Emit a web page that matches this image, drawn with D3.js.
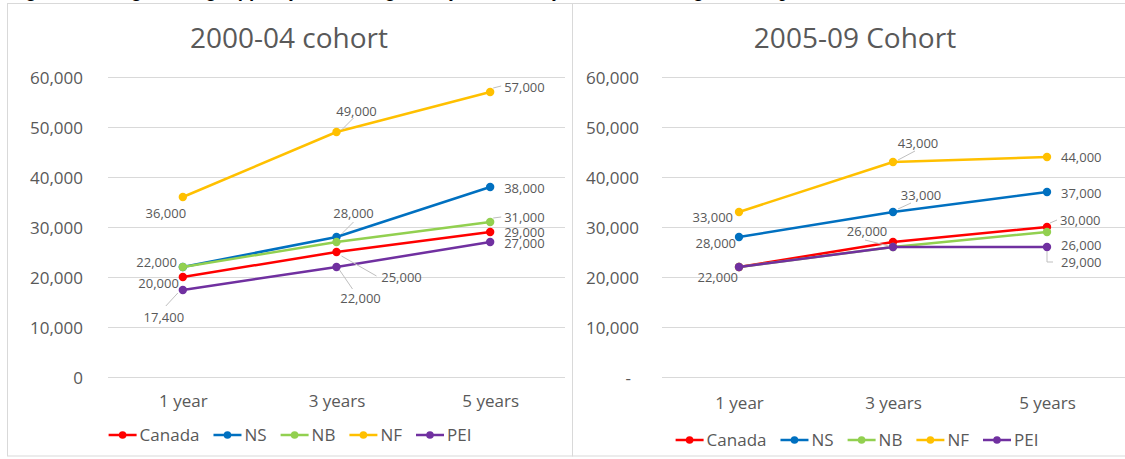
<!DOCTYPE html>
<html>
<head>
<meta charset="utf-8">
<script src="https://cdn.jsdelivr.net/npm/d3@7"></script>
<style>
  html, body { margin: 0; padding: 0; background: #ffffff; }
  svg { display: block; }
  text { font-family: "Open Sans", "DejaVu Sans", sans-serif; }
</style>
</head>
<body>
<svg id="chart" width="1125" height="459"></svg>
<script>
// ---------- data ----------
const categories = ["1 year", "3 years", "5 years"];
const seriesNames = ["Canada", "NS", "NB", "NF", "PEI"];
const yTicks = [0, 10000, 20000, 30000, 40000, 50000, 60000];
const titles = ["2000-04 cohort", "2005-09 Cohort"];
const caption = "Figure 4: Average earnings of family class immigrants by cohort and years since landing, Atlantic provinces";

// 2000-04 cohort
const canada0004 = [20000, 25000, 29000];
const ns0004     = [22000, 28000, 38000];
const nb0004     = [22000, 27000, 31000];
const nf0004     = [36000, 49000, 57000];
const pei0004    = [17400, 22000, 27000];

// 2005-09 cohort
const canada0509 = [22000, 27000, 30000];
const ns0509     = [28000, 33000, 37000];
const nb0509     = [22000, 26000, 29000];
const nf0509     = [33000, 43000, 44000];
const pei0509    = [22000, 26000, 26000];

// ---------- styles ----------
const colors = ["#ff0000", "#0070c0", "#92d050", "#ffc000", "#7030a0"];
const textGrey = "#595959";
const gridGrey = "#d9d9d9";

// label layout (series index, category index, offsets from the point, anchor, leader)
const labels0004 = [
  {s: 3, i: 0, dx: -17, dy: 16, a: "middle"},
  {s: 2, i: 0, dx: -6, dy: -4.5, a: "end"},
  {s: 0, i: 0, dx: -4, dy: 6, a: "end"},
  {s: 4, i: 0, dx: -19, dy: 27, a: "middle", leader: [[-5, 3], [-17, 16]]},
  {s: 3, i: 1, dx: 20, dy: -21, a: "middle", leader: [[5, -2], [17, -14]]},
  {s: 1, i: 1, dx: 17, dy: -23.5, a: "middle", leader: [[5, -3], [17, -15]]},
  {s: 0, i: 1, dx: 65, dy: 25, a: "middle", leader: [[5, 4], [40, 24]]},
  {s: 4, i: 1, dx: 24, dy: 31, a: "middle", leader: [[3, 3], [16, 22]]},
  {s: 3, i: 2, dx: 14, dy: -4.5, a: "start", leader: [[3, -4], [11, -6]]},
  {s: 1, i: 2, dx: 14, dy: 1, a: "start"},
  {s: 2, i: 2, dx: 14, dy: -5, a: "start", leader: [[3, -4], [11, -5]]},
  {s: 0, i: 2, dx: 14, dy: 0.5, a: "start"},
  {s: 4, i: 2, dx: 14, dy: 1, a: "start"}
];
const labels0509 = [
  {s: 3, i: 0, dx: -6, dy: 5, a: "end"},
  {s: 1, i: 0, dx: -3, dy: 6, a: "end"},
  {s: 4, i: 0, dx: -1, dy: 10, a: "end"},
  {s: 3, i: 1, dx: 25, dy: -19, a: "middle", leader: [[5, -2], [22, -11]]},
  {s: 1, i: 1, dx: 28, dy: -17, a: "middle", leader: [[5, -3], [18, -9]]},
  {s: 4, i: 1, dx: -26, dy: -16, a: "middle", leader: [[-4, -1], [-28, -7]]},
  {s: 3, i: 2, dx: 14, dy: 0.5, a: "start"},
  {s: 1, i: 2, dx: 14, dy: 1, a: "start"},
  {s: 0, i: 2, dx: 13, dy: -7, a: "start", leader: [[3, -4], [10, -7]]},
  {s: 4, i: 2, dx: 14, dy: -1.5, a: "start"},
  {s: 2, i: 2, dx: 14, dy: 30.5, a: "start", leader: [[0, 19], [0, 30], [6, 30]]}
];

// ---------- panels ----------
const panels = [
  {
    title: titles[0], series: [canada0004, ns0004, nb0004, nf0004, pei0004], labels: labels0004,
    frame: [7, 3.5, 572, 456], titleX: 289, xRange: [106, 567], grid: [108, 565],
    labelPad: 25, zeroText: "0", xAxisY: 395, legendY: 435, legendCx: 290
  },
  {
    title: titles[1], series: [canada0509, ns0509, nb0509, nf0509, pei0509], labels: labels0509,
    frame: [572, 3.5, 1135, 456], titleX: 855, xRange: [662, 1124], grid: [662, 1135],
    labelPad: 23, zeroText: "-", xAxisY: 397, legendY: 440, legendCx: 857
  }
];

const svg = d3.select("#chart");
svg.append("rect").attr("width", 1125).attr("height", 459).attr("fill", "#fff");

// caption (cut off at top in the original)
svg.append("text")
  .attr("x", 10).attr("y", -3)
  .attr("font-style", "italic").attr("font-weight", "bold")
  .attr("font-size", 19).attr("fill", "#000")
  .style("font-family", "'Liberation Serif', serif")
  .text(caption);

const y = d3.scaleLinear().domain([0, 60000]).range([377, 77]);
const fmt = d3.format(",");

panels.forEach(p => {
  const g = svg.append("g");
  const [fx0, fy0, fx1, fy1] = p.frame;
  g.append("rect")
    .attr("x", fx0 + 0.5).attr("y", fy0)
    .attr("width", fx1 - fx0).attr("height", fy1 - fy0)
    .attr("fill", "#fff").attr("stroke", gridGrey).attr("stroke-width", 1);

  // title
  g.append("text")
    .attr("x", p.titleX).attr("y", 48)
    .attr("text-anchor", "middle")
    .attr("font-size", 28).attr("fill", textGrey)
    .text(p.title);

  const x = d3.scalePoint().domain(categories).range(p.xRange).padding(0.5);

  // y axis + gridlines
  const yAxis = d3.axisLeft(y)
    .tickValues(yTicks)
    .tickSizeInner(-(p.grid[1] - p.grid[0]))
    .tickSizeOuter(0)
    .tickPadding(p.labelPad)
    .tickFormat(d => d === 0 ? p.zeroText : fmt(d));
  const ya = g.append("g").attr("transform", `translate(${p.grid[0]},0)`).call(yAxis);
  ya.select(".domain").remove();
  ya.selectAll(".tick line").attr("stroke", gridGrey).attr("stroke-width", 1);
  ya.selectAll(".tick text")
    .attr("fill", textGrey).attr("font-size", 17)
    .style("font-family", "'Open Sans', sans-serif")
    .attr("dy", "0.36em");
  if (p.zeroText === "-") {
    ya.selectAll(".tick text").filter(d => d === 0).attr("dx", -8);
  }

  // x axis labels
  const xAxis = d3.axisBottom(x).tickSize(0).tickPadding(0);
  const xa = g.append("g").attr("transform", `translate(0,${p.xAxisY})`).call(xAxis);
  xa.select(".domain").remove();
  xa.selectAll(".tick text")
    .attr("fill", textGrey).attr("font-size", 17)
    .style("font-family", "'Open Sans', sans-serif");

  // lines
  const line = d3.line().x((d, i) => x(categories[i])).y(d => y(d));
  p.series.forEach((vals, si) => {
    g.append("path")
      .datum(vals)
      .attr("d", line)
      .attr("fill", "none")
      .attr("stroke", colors[si])
      .attr("stroke-width", 2.5)
      .attr("stroke-linejoin", "round");
    g.selectAll(null)
      .data(vals)
      .enter().append("circle")
      .attr("cx", (d, i) => x(categories[i]))
      .attr("cy", d => y(d))
      .attr("r", 4.2)
      .attr("fill", colors[si]);
  });

  // data labels
  p.labels.forEach(l => {
    const v = p.series[l.s][l.i];
    const px = x(categories[l.i]), py = y(v);
    if (l.leader) {
      g.append("polyline")
        .attr("points", l.leader.map(q => `${px + q[0]},${py + q[1]}`).join(" "))
        .attr("fill", "none").attr("stroke", "#bfbfbf").attr("stroke-width", 1);
    }
    g.append("text")
      .attr("x", px + l.dx).attr("y", py + l.dy)
      .attr("dy", "0.35em")
      .attr("text-anchor", l.a)
      .attr("font-size", 13).attr("fill", textGrey)
      .text(fmt(v));
  });

  // legend
  const lg = g.append("g");
  let cx = 0;
  seriesNames.forEach((name, si) => {
    const it = lg.append("g").attr("transform", `translate(${cx},0)`);
    it.append("line").attr("x1", 0).attr("x2", 28).attr("y1", 0).attr("y2", 0)
      .attr("stroke", colors[si]).attr("stroke-width", 2.5);
    it.append("circle").attr("cx", 14).attr("cy", 0).attr("r", 3.8).attr("fill", colors[si]);
    const t = it.append("text").attr("x", 31).attr("y", 0).attr("dy", "0.35em")
      .attr("font-size", 17).attr("fill", textGrey).text(name);
    const w = t.node().getComputedTextLength();
    cx += 31 + w + 14;
  });
  const total = cx - 14;
  lg.attr("transform", `translate(${p.legendCx - total / 2},${p.legendY})`);
});
</script>
</body>
</html>
